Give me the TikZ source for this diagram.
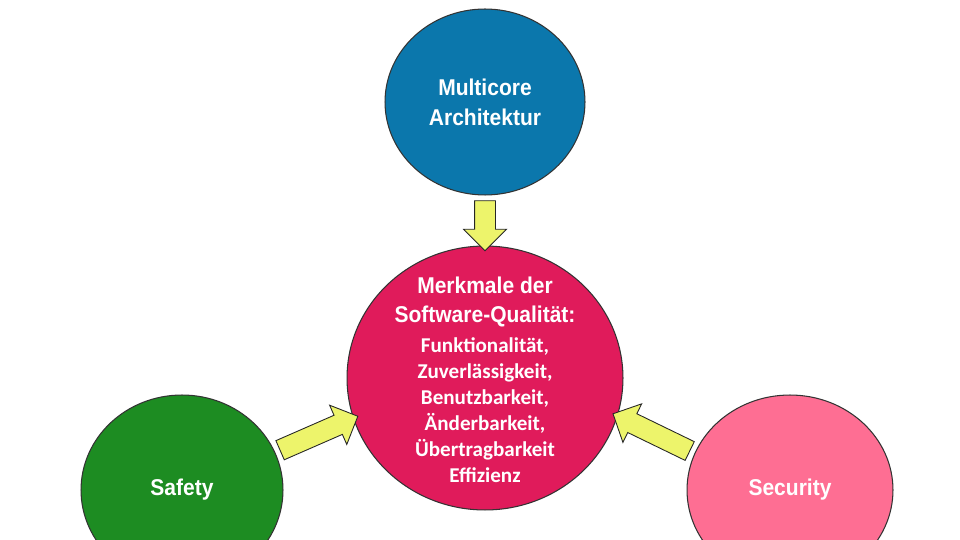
\documentclass[tikz,border=0pt]{standalone}
\usepackage{fontspec}
\setmainfont{Liberation Sans}
\newfontfamily\headfont[FakeStretch=0.92]{Liberation Sans}
\newfontfamily\listfont{Carlito}
\usetikzlibrary{shapes.geometric,shapes.arrows,calc}
\definecolor{coreblue}{HTML}{0B77AC}
\definecolor{qualred}{HTML}{E01B5B}
\definecolor{safegreen}{HTML}{1D8C22}
\definecolor{secpink}{HTML}{FE6E93}
\definecolor{arrowyellow}{HTML}{EDF46B}

\begin{document}
\begin{tikzpicture}[
  x=0.02cm, y=-0.02cm,
  circ/.style={ellipse, draw=black!80, line width=0.6pt, inner sep=0pt},
  headtxt/.style={text=white, align=center, inner sep=0pt,
                  font=\headfont\fontsize{13}{17}\selectfont\bfseries},
  listtxt/.style={text=white, align=center, inner sep=0pt,
                  font=\listfont\fontsize{12}{14.8}\selectfont\bfseries},
  fatarrow/.style={single arrow, draw=black!85, fill=arrowyellow, line width=0.5pt,
                   inner xsep=0pt, inner ysep=0.2cm, minimum width=0.84cm,
                   single arrow head extend=0.22cm, single arrow head indent=0pt},
]
\useasboundingbox (0,0) rectangle (960,540);
\clip (0,0) rectangle (960,540);
\node[circ, fill=coreblue, minimum width=4cm, minimum height=3.72cm] (M) at (485,102) {};
\node[circ, fill=qualred, minimum width=5.52cm, minimum height=5.28cm] (Q) at (485,378) {};
\node[circ, fill=safegreen, minimum width=4.04cm, minimum height=3.8cm] (S) at (182,490) {};
\node[circ, fill=secpink, minimum width=4.12cm, minimum height=3.8cm] (Sec) at (790,490) {};
\node[headtxt] (Mtext) at (M) {Multicore\\Architektur};
\node[headtxt] (Qhead) at (485,302) {Merkmale der\\Software-Qualität:};
\node[listtxt] (Qlist) at (485,410) {Funktionalität,\\Zuverlässigkeit,\\Benutzbarkeit,\\Änderbarkeit,\\Übertragbarkeit\\Effizienz};
\node[headtxt] (Stext) at (S) {Safety};
\node[headtxt] (Sectext) at (Sec) {Security};
% fat arrows into the middle
\foreach \a/\b/\nm in {M.south/Q.north/top, S.22/Q.197/left, Sec.159/Q.344/right}
  \path let \p1=($(\b)-(\a)$), \n1={veclen(\x1,\y1)}, \n2={atan2(\y1,\x1)} in
    node[fatarrow, minimum height=\n1, rotate=\n2] (arr-\nm) at ($(\a)!0.5!(\b)$) {};
\end{tikzpicture}
\end{document}
